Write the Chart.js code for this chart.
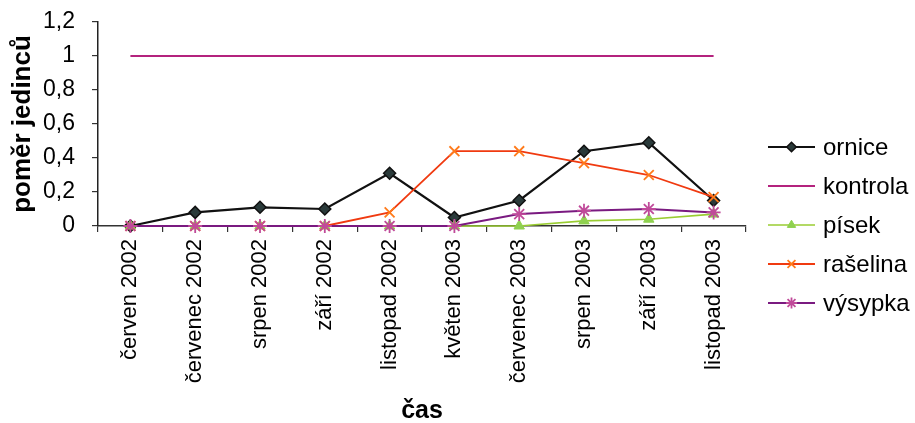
<!DOCTYPE html>
<html lang="cs">
<head>
<meta charset="utf-8">
<script src="https://cdn.jsdelivr.net/npm/chart.js@4/dist/chart.umd.min.js"></script>
<style>
  html, body { margin: 0; padding: 0; background: #fff; }
  #wrap { width: 915px; height: 423px; }
</style>
</head>
<body>
<div id="wrap"><canvas id="c" width="915" height="423"></canvas></div>
<script>
// Sampling dates
const categories = ['červen 2002', 'červenec 2002', 'srpen 2002', 'září 2002', 'listopad 2002',
                    'květen 2003', 'červenec 2003', 'srpen 2003', 'září 2003', 'listopad 2003'];

// Proportion of individuals per substrate
const ornice   = [0, 0.08, 0.11, 0.10, 0.31, 0.05, 0.15, 0.44, 0.49, 0.15];
const kontrola = [1, 1, 1, 1, 1, 1, 1, 1, 1, 1];
const pisek    = [0, 0, 0, 0, 0, 0, 0, 0.03, 0.04, 0.07];
const raselina = [0, 0, 0, 0, 0.08, 0.44, 0.44, 0.37, 0.30, 0.17];
const vysypka  = [0, 0, 0, 0, 0, 0, 0.07, 0.09, 0.10, 0.08];

const yTicks = [0, 0.2, 0.4, 0.6, 0.8, 1, 1.2];

const FONT = '"Liberation Sans", Arial, sans-serif';

// Legend drawn on the right: line sample with marker, then label
const sideLegend = {
  id: 'sideLegend',
  afterDraw(chart) {
    const ctx = chart.ctx;
    const x0 = 768, x1 = 815, tx = 823;
    chart.data.datasets.forEach((ds, i) => {
      const y = 147 + i * 39;
      ctx.save();
      ctx.strokeStyle = ds.borderColor;
      ctx.lineWidth = ds.borderWidth;
      ctx.beginPath();
      ctx.moveTo(x0, y);
      ctx.lineTo(x1, y);
      ctx.stroke();
      if (ds.pointRadius > 0) {
        ctx.fillStyle = ds.pointBackgroundColor;
        ctx.strokeStyle = ds.pointBorderColor;
        ctx.lineWidth = ds.pointBorderWidth;
        Chart.helpers.drawPoint(ctx, {
          pointStyle: ds.pointStyle,
          radius: ds.pointRadius * 0.8,
          rotation: 0,
          borderWidth: ds.pointBorderWidth
        }, (x0 + x1) / 2, y);
      }
      ctx.fillStyle = '#000';
      ctx.font = '24px ' + FONT;
      ctx.textAlign = 'left';
      ctx.textBaseline = 'middle';
      ctx.fillText(ds.label, tx, y + 1);
      ctx.restore();
    });
  }
};

// Later series are painted over earlier ones (lower order = on top)
new Chart(document.getElementById('c'), {
  type: 'line',
  data: {
    labels: categories,
    datasets: [
      {
        label: 'ornice', data: ornice, clip: false, order: 5,
        borderColor: '#111111', borderWidth: 2.2,
        pointStyle: 'rectRot', pointRadius: 6,
        pointBackgroundColor: '#2a3a3a', pointBorderColor: '#111111', pointBorderWidth: 1.5
      },
      {
        label: 'kontrola', data: kontrola, clip: false, order: 4,
        borderColor: '#b4237e', borderWidth: 2.2,
        pointRadius: 0
      },
      {
        label: 'písek', data: pisek, clip: false, order: 3,
        borderColor: '#9acd32', borderWidth: 1.6,
        pointStyle: 'triangle', pointRadius: 6,
        pointBackgroundColor: '#8fd14f', pointBorderColor: '#8fd14f', pointBorderWidth: 1
      },
      {
        label: 'rašelina', data: raselina, clip: false, order: 2,
        borderColor: '#f03a10', borderWidth: 1.8,
        pointStyle: 'crossRot', pointRadius: 7,
        pointBackgroundColor: '#ff7a1a', pointBorderColor: '#ff7a1a', pointBorderWidth: 1.8
      },
      {
        label: 'výsypka', data: vysypka, clip: false, order: 1,
        borderColor: '#7a1a80', borderWidth: 2,
        pointStyle: 'star', pointRadius: 7,
        pointBackgroundColor: '#cc33cc', pointBorderColor: '#c04a9a', pointBorderWidth: 1.8
      }
    ]
  },
  options: {
    responsive: false,
    animation: false,
    events: [],
    layout: { padding: { left: 0, right: 169, top: 22, bottom: 0 } },
    plugins: { legend: { display: false }, tooltip: { enabled: false } },
    elements: { line: { tension: 0 } },
    scales: {
      x: {
        type: 'category',
        offset: true,
        border: { display: true, color: '#333', width: 1.5 },
        grid: { display: true, offset: true, drawOnChartArea: false, drawTicks: true,
                tickLength: 6, color: '#333', lineWidth: 1.2 },
        ticks: {
          autoSkip: false, maxRotation: 90, minRotation: 90, padding: 7,
          color: '#000', font: { family: FONT, size: 22 }
        },
        title: {
          display: true, text: 'čas', color: '#000',
          font: { family: FONT, size: 25, weight: 'bold', lineHeight: 1 },
          padding: { top: 0, bottom: -1 }
        },
        afterFit(scale) { scale.height = 197; scale.paddingLeft = 0; scale.paddingRight = 0; }
      },
      y: {
        min: 0, max: 1.2,
        afterBuildTicks(scale) { scale.ticks = yTicks.map(v => ({ value: v })); },
        border: { display: true, color: '#222', width: 1.5 },
        grid: { display: true, drawOnChartArea: false, drawTicks: true,
                tickLength: 6, color: '#333', lineWidth: 1.2 },
        ticks: {
          padding: 17, color: '#000',
          font: { family: FONT, size: 23 },
          callback: v => String(Math.round(v * 10) / 10).replace('.', ',')
        },
        title: {
          display: true, text: 'poměr jedinců', color: '#000',
          font: { family: FONT, size: 26, weight: 'bold', lineHeight: 1 },
          padding: { top: 10, bottom: 0 }
        },
        afterFit(scale) { scale.width = 98; scale.paddingTop = 0; scale.paddingBottom = 0; }
      }
    }
  },
  plugins: [sideLegend]
});
</script>
</body>
</html>
